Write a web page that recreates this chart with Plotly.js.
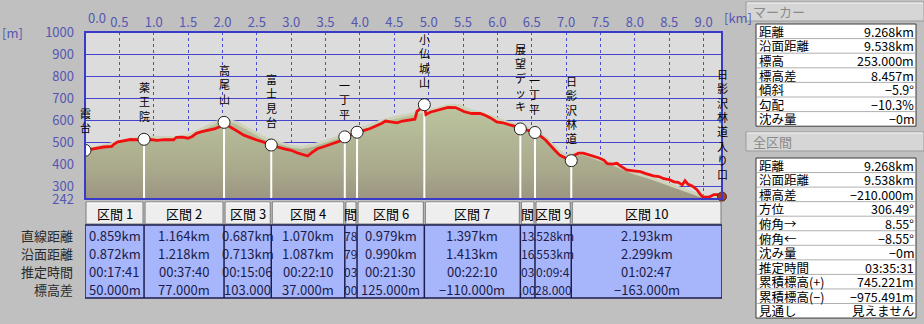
<!DOCTYPE html>
<html><head><meta charset="utf-8">
<script src="https://cdn.plot.ly/plotly-3.0.1.min.js"></script>
<style>html,body{margin:0;padding:0;background:#c0c0c0;overflow:hidden}#chart{width:924px;height:324px}</style>
</head><body><div id="chart"></div>
<script>
// ---- data ----
const routeKm = [0,0.06,0.13,0.2,0.27,0.39,0.42,0.47,0.56,0.66,0.75,0.859,0.95,1.05,1.15,1.29,1.33,1.42,1.5,1.56,1.62,1.7,1.8,1.88,1.96,2.023,2.06,2.12,2.2,2.31,2.4,2.5,2.6,2.71,2.8,2.9,3.0,3.1,3.2,3.24,3.3,3.38,3.46,3.55,3.67,3.73,3.78,3.85,3.958,4.05,4.15,4.25,4.32,4.37,4.45,4.54,4.62,4.7,4.8,4.83,4.88,4.937,4.96,5.02,5.1,5.2,5.28,5.39,5.45,5.52,5.63,5.75,5.82,5.9,5.99,6.08,6.18,6.26,6.334,6.42,6.547,6.62,6.7,6.77,6.84,6.91,7.0,7.075,7.12,7.18,7.25,7.32,7.4,7.48,7.55,7.6,7.67,7.74,7.8,7.88,7.98,8.08,8.16,8.27,8.35,8.42,8.5,8.57,8.63,8.69,8.73,8.77,8.84,8.9,8.96,9.0,9.08,9.15,9.22,9.268];
const routeElev = [463,466,472,473,478,481,490,500,505,512,511,513,512,508,511,511,522,523,518,526,540,548,555,560,570,590,578,568,553,532,520,510,500,487,478,470,463,450,440,437,452,470,478,488,500,507,524,532,545,552,562,575,586,596,591,588,596,601,604,640,652,670,625,636,642,650,658,657,648,638,630,630,622,610,592,588,578,572,560,556,544,530,510,484,462,440,428,416,440,450,450,443,437,428,418,402,400,404,390,374,370,366,357,347,344,334,330,320,318,306,325,310,300,285,260,250,251,262,262,253];
const terrainKm = [0,0.3,0.5,0.7,1.0,1.3,1.5,1.7,1.9,2.05,2.2,2.4,2.6,2.8,3.0,3.15,3.3,3.5,3.7,3.9,4.1,4.3,4.5,4.7,4.9,5.1,5.3,5.45,5.6,5.8,6.0,6.2,6.4,6.6,6.75,6.9,7.0,7.1,7.25,7.4,7.55,7.7,7.85,8.0,8.2,8.4,8.6,8.8,8.95,9.1,9.268];
const terrainElev = [465,485,502,515,522,520,530,560,590,600,590,555,520,500,482,476,485,505,525,550,570,595,612,625,638,650,668,665,645,628,605,585,565,545,505,458,440,445,448,432,415,398,378,360,342,320,300,278,258,248,250];
const sectionDist = [0.859,1.164,0.687,1.070,0.178,0.979,1.397,0.213,0.528,2.193];
const markerElev = [463,513,590,487,524,545,670,560,544,416,253];
const markerNames = ["霞台","薬王院","高尾山","富士見台","一丁平","","小仏城山","展望デッキ","一丁平","日影沢林道","日影沢林道入り口"];
const sectionHeaders = ["区間 1","区間 2","区間 3","区間 4","間","区間 6","区間 7","間","区間 9","区間 10"];
const rowLabels = ["直線距離","沿面距離","推定時間","標高差"];
const sectionStraight = ["0.859km","1.164km","0.687km","1.070km","78","0.979km","1.397km","13",".528km","2.193km"];
const sectionAlong = ["0.872km","1.218km","0.713km","1.087km","79","0.990km","1.413km","16",".553km","2.299km"];
const sectionTime = ["00:17:41","00:37:40","00:15:06","00:22:10","03","00:21:30","00:22:10","03","0:09:4","01:02:47"];
const sectionDiff = ["50.000m","77.000m","103.000","37.000m","00","125.000m","−110.000m",".00","28.000","−163.000m"];
const xTickVals = [0.5,1.0,1.5,2.0,2.5,3.0,3.5,4.0,4.5,5.0,5.5,6.0,6.5,7.0,7.5,8.0,8.5,9.0];
const xTickText = ["0.5","1.0","1.5","2.0","2.5","3.0","3.5","4.0","4.5","5.0","5.5","6.0","6.5","7.0","7.5","8.0","8.5","9.0"];
const yTickVals = [242,300,400,500,600,700,800,900,1000];
const yTickText = ["242","300","400","500","600","700","800","900","1000"];
const markerLabels = ["距離","沿面距離","標高","標高差","傾斜","勾配","沈み量"];
const markerValues = ["9.268km","9.538km","253.000m","8.457m","−5.9°","−10.3%","−0m"];
const totalLabels = ["距離","沿面距離","標高差","方位","俯角→","俯角←","沈み量","推定時間","累積標高(+)","累積標高(−)","見通し"];
const totalValues = ["9.268km","9.538km","−210.000m","306.49°","8.55°","−8.55°","−0m","03:35:31","745.221m","−975.491m","見えません"];

// ---- layout helpers ----
const W=924,H=324, PL=85, PR=722, PT=32, PB=199;
const X = v => v/W, Y = v => 1 - v/H;
const KMAX = 9.268, YMIN = 242, YMAX = 1000;
const kmPx = KMAX/(PR-PL);
const F = "'Noto Sans CJK JP', 'Noto Sans', sans-serif";
const blue = '#5656b2';

const markerKm = [0];
sectionDist.forEach((d,i)=>markerKm.push(+(markerKm[i]+d).toFixed(3)));

const traces = [];
traces.push({x:terrainKm, y:terrainElev, mode:'lines', line:{width:0}, fill:'tozeroy',
  fillgradient:{type:'vertical', start:YMIN, stop:660, colorscale:[[0,'#9c9582'],[0.3,'#a9a88b'],[1,'#bcc59f']]}, hoverinfo:'skip'});
traces.push({x:terrainKm, y:terrainElev, mode:'lines', line:{color:'#cdd3ba', width:3}, hoverinfo:'skip'});
const sx=[], sy=[];
for (let i=0;i<markerKm.length-1;i++){ sx.push(markerKm[i],markerKm[i],null); sy.push(markerElev[i],YMIN,null); }
traces.push({x:sx, y:sy, mode:'lines', line:{color:'#ffffff', width:2}, hoverinfo:'skip'});
traces.push({x:routeKm, y:routeElev, mode:'lines', line:{color:'#f01010', width:2.8}, hoverinfo:'skip'});
traces.push({x:markerKm.slice(0,-1), y:markerElev.slice(0,-1), mode:'markers',
  marker:{symbol:'circle', size:12, color:'#ffffff', line:{color:'#222', width:1}}, hoverinfo:'skip'});
traces.push({x:[markerKm[markerKm.length-1]], y:[markerElev[markerElev.length-1]], mode:'markers',
  marker:{symbol:'circle', size:9, color:'#b03a22', line:{color:'#4a2a1a', width:1}}, hoverinfo:'skip', cliponaxis:false});

const shapes = [], ann = [];
function A(o){ o.showarrow=false; if(!o.xanchor) o.xanchor='center'; o.yanchor=o.yanchor||'middle'; ann.push(o); }
// plot border
shapes.push({type:'rect', xref:'x domain', yref:'y domain', x0:0,x1:1,y0:0,y1:1, line:{color:'#3a3ac8', width:2}});
// axis extra labels
A({xref:'x', yref:'paper', x:0, y:Y(17), xshift:12, text:'0.0', font:{family:F,size:13,color:blue}});
A({xref:'paper', yref:'paper', x:X(738), y:Y(17), text:'[km]', font:{family:F,size:13,color:blue}});
A({xref:'paper', yref:'paper', x:X(12), y:Y(32), text:'[m]', font:{family:F,size:13,color:blue}});
// marker labels (stacked vertical, one text per label)
markerNames.forEach((nm,i)=>{
  if (!nm) return;
  A({xref:'x', yref:'y', x:markerKm[i], y:markerElev[i], yanchor:'bottom', yshift:14,
    text:Array.from(nm).join('<br>'), borderpad:0, font:{family:F, size:11, color:'#000'}});
});
// section header buttons + table
for (let i=0;i<sectionDist.length;i++){
  const a=markerKm[i], b=markerKm[i+1];
  shapes.push({type:'rect', xref:'x', yref:'paper', x0:a+kmPx, x1:b-kmPx, y0:Y(224), y1:Y(202), fillcolor:'#eeeeee', line:{color:'#7a7a7a', width:1}});
  shapes.push({type:'line', xref:'x', yref:'paper', x0:a+2*kmPx, x1:b-2*kmPx, y0:Y(203), y1:Y(203), line:{color:'#ffffff', width:1}});
  A({xref:'x', yref:'paper', x:(a+b)/2, y:Y(213), text:sectionHeaders[i], font:{family:F,size:13,color:'#000'}});
}
shapes.push({type:'rect', xref:'x', yref:'paper', x0:0, x1:KMAX, y0:Y(298), y1:Y(225), fillcolor:'#a7b5fb', line:{color:'#1e1e4e', width:1.5}});
for (let i=1;i<markerKm.length-1;i++){
  shapes.push({type:'line', xref:'x', yref:'paper', x0:markerKm[i], x1:markerKm[i], y0:Y(298), y1:Y(225), line:{color:'#1e1e4e', width:1.5}});
}
const rowsY = [235,253,271,289];
const rowVals = [sectionStraight, sectionAlong, sectionTime, sectionDiff];
rowLabels.forEach((t,r)=>{
  A({xref:'paper', yref:'paper', x:X(75), y:Y(rowsY[r]), xanchor:'right', text:t, font:{family:F,size:13,color:'#2a2a2a'}});
  for (let i=0;i<sectionDist.length;i++){
    const narrow = (markerKm[i+1]-markerKm[i]) < 0.6;
    A({xref:'x', yref:'paper', x:(markerKm[i]+markerKm[i+1])/2, y:Y(rowsY[r]), text:rowVals[r][i], borderpad:0,
      font:{family:F,size:narrow?12:13,color:'#1c1c48'}});
  }
});
// right panel
function headerBar(y0,y1,label){
  shapes.push({type:'rect', xref:'paper', yref:'paper', x0:X(746), x1:X(924), y0:Y(y1), y1:Y(y0), fillcolor:'#d6d6d6', line:{color:'#9a9a9a', width:1}});
  shapes.push({type:'line', xref:'paper', yref:'paper', x0:X(747), x1:X(923), y0:Y(y0+1), y1:Y(y0+1), line:{color:'#f4f4f4', width:1}});
  A({xref:'paper', yref:'paper', x:X(751), y:Y((y0+y1)/2), xanchor:'left', text:label, font:{family:F,size:13,color:'#8a8a8a'}});
}
function infoTable(top,rowH,labels,values){
  const n=labels.length, bottom=top+n*rowH;
  shapes.push({type:'rect', xref:'paper', yref:'paper', x0:X(756), x1:X(916), y0:Y(bottom), y1:Y(top), fillcolor:'#ffffff', line:{color:'#3a3a3a', width:1}});
  for (let r=1;r<n;r++){
    shapes.push({type:'line', xref:'paper', yref:'paper', x0:X(757), x1:X(915), y0:Y(top+r*rowH), y1:Y(top+r*rowH), line:{color:'#b0b0b0', width:1}});
  }
  labels.forEach((t,r)=>{
    const yc = top + (r+0.5)*rowH;
    A({xref:'paper', yref:'paper', x:X(758), y:Y(yc), xanchor:'left', text:t, borderpad:0, font:{family:F,size:12.5,color:'#000'}});
    A({xref:'paper', yref:'paper', x:X(915), y:Y(yc), xanchor:'right', text:values[r], borderpad:0, font:{family:F,size:12.5,color:'#000'}});
  });
}
headerBar(2,21,'マーカー');
infoTable(24,14.6,markerLabels,markerValues);
headerBar(132,151,'全区間');
infoTable(158,14.55,totalLabels,totalValues);

const layout = {
  width:W, height:H, margin:{l:0,r:0,t:0,b:0}, paper_bgcolor:'#c0c0c0', plot_bgcolor:'#dcdcdc',
  showlegend:false, hovermode:false,
  xaxis:{domain:[X(PL),X(PR)], range:[0,KMAX], side:'top', tickvals:xTickVals, ticktext:xTickText, ticks:'',
    tickfont:{family:F,size:13,color:blue}, showgrid:true, gridcolor:'#4a4ad2', griddash:'dot', gridwidth:1,
    zeroline:false, showline:false, automargin:false, fixedrange:true, ticklabelstandoff:1},
  yaxis:{domain:[Y(PB),Y(PT)], range:[YMIN,YMAX], tickvals:yTickVals, ticktext:yTickText, ticks:'',
    tickfont:{family:F,size:13,color:blue}, showgrid:true, gridcolor:'#4444cc', gridwidth:1,
    zeroline:false, showline:false, automargin:false, fixedrange:true, ticklabelstandoff:10},
  shapes:shapes, annotations:ann
};
Plotly.newPlot('chart', traces, layout, {staticPlot:true, displayModeBar:false});
</script></body></html>
